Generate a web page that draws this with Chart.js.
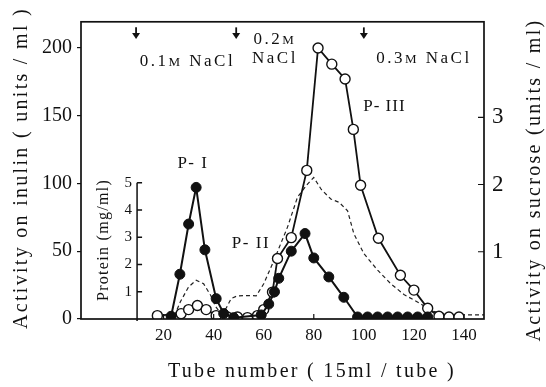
<!DOCTYPE html>
<html>
<head>
<meta charset="utf-8">
<script src="https://cdn.jsdelivr.net/npm/chart.js@4.4.1/dist/chart.umd.min.js"></script>
<style>
  body { margin: 0; background: #fff; }
  canvas { display: block; }
</style>
</head>
<body>
<canvas id="chart" width="546" height="387"></canvas>
<script>
// readings taken off the elution profile
const inulinTubes = [23, 26.5, 30, 33, 36.5, 41, 44, 48, 59, 62, 64.3, 66, 71, 76.5, 80, 86, 92, 97.5, 101.5, 105.5, 109.5, 113.5, 117.5, 121.5, 125.5];
const inulinActivity = [2, 33, 70, 97, 51, 15, 4, 1, 3, 11, 20, 30, 50, 63, 45, 31, 16, 1.5, 1.5, 1.5, 1.5, 1.5, 1.5, 1.5, 1.5];

const sucroseTubes = [17.5, 27, 30, 33.5, 37, 41, 45.5, 49.5, 53.5, 57.5, 60, 63.5, 65.5, 71, 77.2, 81.7, 87.2, 92.5, 95.8, 98.7, 105.8, 114.6, 120, 125.5, 130, 134, 138];
const sucroseActivity = [0.05, 0.08, 0.14, 0.2, 0.14, 0.05, 0.03, 0.03, 0.02, 0.05, 0.14, 0.4, 0.9, 1.21, 2.21, 4.03, 3.79, 3.57, 2.82, 1.99, 1.2, 0.65, 0.43, 0.16, 0.04, 0.03, 0.03];

const proteinTubes = [22, 24, 26.7, 30, 33, 36, 38.8, 40.8, 43, 45, 47, 49.5, 53.5, 57, 60, 64, 69.5, 73.5, 77.5, 80, 83, 86.8, 90.1, 93.5, 96, 100, 105.5, 110.8, 116, 122.8, 127, 132, 137.4, 148];
const proteinConc = [0, 0.05, 0.63, 1.18, 1.42, 1.29, 0.87, 0.45, 0.2, 0.4, 0.75, 0.85, 0.86, 0.85, 1.29, 2.13, 3.37, 4.47, 4.95, 5.19, 4.75, 4.4, 4.28, 3.97, 3.13, 2.4, 1.79, 1.29, 0.9, 0.55, 0.3, 0.2, 0.15, 0.15];

const xTicks = [20, 40, 60, 80, 100, 120, 140];
const inulinTicks = [0, 50, 100, 150, 200];
const sucroseTicks = [1, 2, 3];
const proteinTicks = [1, 2, 3, 4, 5];
const saltSteps = [9, 49, 100];

const serif = '"Liberation Serif", "DejaVu Serif", serif';

function toPoints(xs, ys) {
    return xs.map((x, i) => ({x: x, y: ys[i]}));
}

// text drawn with a wide letter spacing, parts = [[text, size], ...]
function drawParts(ctx, parts, cx, baseY, spacing) {
    ctx.letterSpacing = spacing + 'px';
    let total = 0;
    parts.forEach(p => {
        ctx.font = p[1] + 'px ' + serif;
        total += ctx.measureText(p[0]).width;
    });
    let x = cx - total / 2;
    ctx.textAlign = 'left';
    ctx.textBaseline = 'alphabetic';
    parts.forEach(p => {
        ctx.font = p[1] + 'px ' + serif;
        ctx.fillText(p[0], x, baseY);
        x += ctx.measureText(p[0]).width;
    });
}

const notes = [
    {parts: [['P- I', 17]], tube: 31.7, val: 111, sp: 1.5},
    {parts: [['P- II', 17]], tube: 54.9, val: 52, sp: 1.5},
    {parts: [['P- III', 17]], tube: 108.2, val: 153.7, sp: 1},
    {parts: [['0.1', 17], ['M', 13], [' NaCl', 17]], tube: 29.5, val: 186.8, sp: 2.5},
    {parts: [['0.2', 17], ['M', 13]], tube: 64.5, val: 203, sp: 2.5},
    {parts: [['NaCl', 17]], tube: 64.5, val: 189, sp: 2.5},
    {parts: [['0.3', 17], ['M', 13], [' NaCl', 17]], tube: 124, val: 189, sp: 2.5}
];

const extras = {
    id: 'extras',
    afterDatasetsDraw(chart) {
        const ctx = chart.ctx;
        const area = chart.chartArea;
        const xs = chart.scales.x;
        const yl = chart.scales.y;
        const yr = chart.scales.y2;
        const yp = chart.scales.yP;
        ctx.save();
        ctx.strokeStyle = '#111';
        ctx.fillStyle = '#111';

        // frame
        ctx.lineWidth = 1.7;
        ctx.strokeRect(area.left, area.top, area.right - area.left, area.bottom - area.top);

        // inward ticks on bottom and right
        ctx.lineWidth = 1.2;
        ctx.beginPath();
        xTicks.forEach(v => {
            const px = xs.getPixelForValue(v);
            ctx.moveTo(px, area.bottom);
            ctx.lineTo(px, area.bottom - 5);
        });
        sucroseTicks.forEach(v => {
            const py = yr.getPixelForValue(v);
            ctx.moveTo(area.right, py);
            ctx.lineTo(area.right - 6, py);
        });
        ctx.stroke();

        // inset protein axis
        const ax = xs.getPixelForValue(9.4);
        ctx.lineWidth = 1.5;
        ctx.beginPath();
        ctx.moveTo(ax, yp.getPixelForValue(0) + 2);
        ctx.lineTo(ax, yp.getPixelForValue(5));
        proteinTicks.forEach(v => {
            const py = yp.getPixelForValue(v);
            ctx.moveTo(ax, py);
            ctx.lineTo(ax + 5, py);
        });
        ctx.stroke();
        ctx.font = '15px ' + serif;
        ctx.textAlign = 'right';
        ctx.textBaseline = 'middle';
        proteinTicks.forEach(v => {
            ctx.fillText(String(v), ax - 5, yp.getPixelForValue(v));
        });
        ctx.save();
        ctx.translate(ax - 33, yp.getPixelForValue(2.9));
        ctx.rotate(-Math.PI / 2);
        ctx.font = '16px ' + serif;
        ctx.letterSpacing = '1.3px';
        ctx.textAlign = 'center';
        ctx.textBaseline = 'middle';
        ctx.fillText('Protein (mg/ml)', 0, 0);
        ctx.restore();

        // salt step arrows
        saltSteps.forEach(t => {
            const px = xs.getPixelForValue(t);
            const top = yl.getPixelForValue(215);
            const tip = yl.getPixelForValue(206.5);
            ctx.lineWidth = 1.8;
            ctx.beginPath();
            ctx.moveTo(px, top);
            ctx.lineTo(px, tip - 3);
            ctx.stroke();
            ctx.beginPath();
            ctx.moveTo(px - 4, tip - 6);
            ctx.lineTo(px + 4, tip - 6);
            ctx.lineTo(px, tip);
            ctx.closePath();
            ctx.fill();
        });

        // peak and buffer labels
        notes.forEach(n => {
            drawParts(ctx, n.parts, xs.getPixelForValue(n.tube), yl.getPixelForValue(n.val), n.sp);
        });

        // axis titles
        ctx.letterSpacing = '2.3px';
        ctx.font = '20px ' + serif;
        ctx.textAlign = 'center';
        ctx.textBaseline = 'middle';
        ctx.fillText('Tube number ( 15ml / tube )', 312, 372);
        ctx.save();
        ctx.translate(22, 168);
        ctx.rotate(-Math.PI / 2);
        ctx.fillText('Activity on inulin ( units / ml )', 0, 0);
        ctx.restore();
        ctx.save();
        ctx.translate(535, 180);
        ctx.rotate(-Math.PI / 2);
        ctx.fillText('Activity on sucrose (units / ml)', 0, 0);
        ctx.restore();

        ctx.restore();
    }
};

const ctx = document.getElementById('chart').getContext('2d');
new Chart(ctx, {
    type: 'line',
    data: {
        datasets: [
            {
                label: 'inulin',
                data: toPoints(inulinTubes, inulinActivity),
                yAxisID: 'y',
                borderColor: '#111',
                borderWidth: 2,
                pointRadius: 5,
                pointBackgroundColor: '#111',
                pointBorderColor: '#111',
                pointBorderWidth: 1,
                order: 1
            },
            {
                label: 'sucrose',
                data: toPoints(sucroseTubes, sucroseActivity),
                yAxisID: 'y2',
                borderColor: '#111',
                borderWidth: 1.8,
                pointRadius: 5,
                pointBackgroundColor: '#fff',
                pointBorderColor: '#111',
                pointBorderWidth: 1.4,
                order: 2
            },
            {
                label: 'protein',
                data: toPoints(proteinTubes, proteinConc),
                yAxisID: 'yP',
                borderColor: '#222',
                borderWidth: 1.2,
                borderDash: [4, 3],
                pointRadius: 0,
                order: 3
            }
        ]
    },
    options: {
        responsive: false,
        animation: false,
        layout: {autoPadding: false, padding: {top: 21, left: 0, right: 0, bottom: 0}},
        plugins: {legend: {display: false}, tooltip: {enabled: false}},
        scales: {
            x: {
                type: 'linear',
                min: -13,
                max: 148,
                afterBuildTicks: (scale) => { scale.ticks = xTicks.map(v => ({value: v})); },
                afterFit: (scale) => { scale.height = 68; },
                border: {display: false},
                grid: {display: true, drawOnChartArea: false, drawTicks: false},
                ticks: {color: '#111', padding: 6, maxRotation: 0, font: {family: serif, size: 17}}
            },
            y: {
                type: 'linear',
                position: 'left',
                min: 0,
                max: 219.1,
                afterBuildTicks: (scale) => { scale.ticks = inulinTicks.map(v => ({value: v})); },
                afterFit: (scale) => { scale.width = 81; },
                border: {display: false},
                grid: {display: true, drawOnChartArea: false, drawTicks: true, tickLength: 4, color: '#111', lineWidth: 1.2},
                ticks: {color: '#111', padding: 5, font: {family: serif, size: 20}}
            },
            y2: {
                type: 'linear',
                position: 'right',
                min: 0,
                max: 4.42,
                afterBuildTicks: (scale) => { scale.ticks = sucroseTicks.map(v => ({value: v})); },
                afterFit: (scale) => { scale.width = 62; },
                border: {display: false},
                grid: {display: true, drawOnChartArea: false, drawTicks: false},
                ticks: {color: '#111', padding: 8, font: {family: serif, size: 23}}
            },
            yP: {
                type: 'linear',
                display: false,
                min: 0,
                max: 10.9
            }
        }
    },
    plugins: [extras]
});
</script>
</body>
</html>
